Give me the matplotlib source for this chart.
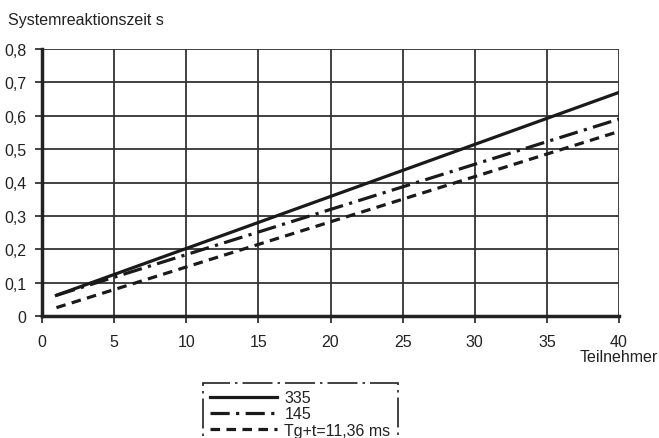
import matplotlib
matplotlib.use("Agg")
import matplotlib.pyplot as plt
from matplotlib.lines import Line2D

plt.rcParams['font.family'] = ['Liberation Sans', 'DejaVu Sans']

teilnehmer = [1, 40]
s335 = [0.062, 0.670]
s145 = [0.062, 0.590]
tg = [0.025, 0.553]
labels = ["335", "145", "Tg+t=11,36 ms"]
xticks = [0, 5, 10, 15, 20, 25, 30, 35, 40]
yticks = [0, 0.1, 0.2, 0.3, 0.4, 0.5, 0.6, 0.7, 0.8]
yticklabels = ["0", "0,1", "0,2", "0,3", "0,4", "0,5", "0,6", "0,7", "0,8"]

fig = plt.figure(figsize=(6.59, 4.39), dpi=100)
ax = fig.add_axes([42/659, 1-317/439, (619-42)/659, (317-50)/439])

ax.set_xlim(0, 40)
ax.set_ylim(0, 0.8)
ax.set_xticks(xticks)
ax.set_xticklabels([str(v) for v in xticks])
ax.set_yticks(yticks)
ax.set_yticklabels(yticklabels)
ax.grid(True, color="#333333", linewidth=1.3)
ax.set_axisbelow(True)
for side in ["top", "right"]:
    ax.spines[side].set_visible(False)
ax.spines["left"].set_linewidth(2.5)
ax.spines["bottom"].set_linewidth(2.5)
ax.spines["left"].set_color("#222222")
ax.spines["bottom"].set_color("#222222")
ax.tick_params(axis="both", direction="out", length=5, width=1.3, color="#333333",
               labelsize=11.5, labelcolor="#222222")
ax.tick_params(axis="x", pad=8)
ax.tick_params(axis="y", pad=6)

l1, = ax.plot(teilnehmer, s335, color="#1a1a1a", linewidth=2.3, linestyle="-")
l2, = ax.plot(teilnehmer, s145, color="#1a1a1a", linewidth=2.3, linestyle=(0, (6, 2, 1, 2)))
l3, = ax.plot(teilnehmer, tg, color="#1a1a1a", linewidth=2.3, linestyle=(0, (3, 2)))

fig.text(8/659, 1-20/439, "Systemreaktionszeit s", fontsize=11.5, color="#222222", va="center", ha="left")
fig.text(619/659, 1-358/439, "Teilnehmer", fontsize=11.5, color="#222222", va="center", ha="center")

leg = fig.legend([l1, l2, l3], labels, loc="upper left",
                 bbox_to_anchor=(203/659, 1-384/439), fontsize=11.5,
                 handlelength=4.2, handletextpad=0.45, labelspacing=0.08,
                 borderpad=0.45, borderaxespad=0, fancybox=False, framealpha=1)
fr = leg.get_frame()
fr.set_edgecolor("#222222")
fr.set_linewidth(1.2)
fr.set_linestyle((0, (18, 3, 1.5, 3)))
for t in leg.get_texts():
    t.set_color("#222222")

fig.savefig("out.png", dpi=100)
